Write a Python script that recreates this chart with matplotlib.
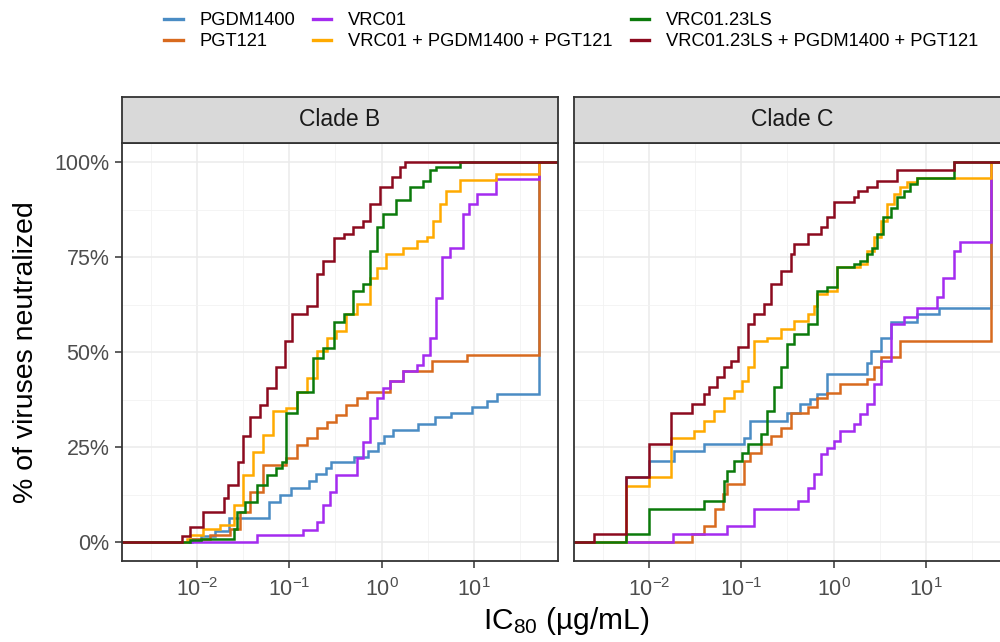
import numpy as np
import matplotlib
matplotlib.use("Agg")
import matplotlib.pyplot as plt
from matplotlib.lines import Line2D
from matplotlib.ticker import FixedLocator, FuncFormatter

plt.rcParams['font.family'] = ['Liberation Sans', 'DejaVu Sans']
plt.rcParams['mathtext.fontset'] = 'custom'
plt.rcParams['mathtext.rm'] = 'Liberation Sans'
plt.rcParams['mathtext.it'] = 'Liberation Sans:italic'

# ---------------- data (log10 IC80 at each step, % neutralized after step) ----
antibodies = ["PGDM1400", "PGT121", "VRC01", "VRC01 + PGDM1400 + PGT121",
              "VRC01.23LS", "VRC01.23LS + PGDM1400 + PGT121"]
colors = ["#4A8CC4", "#D86A1E", "#A42BF0", "#FFAA00", "#0B7A0B", "#8C0A1E"]
panels = ["Clade B", "Clade C"]

# Clade B
B_PGDM1400_logx = [-2.05, -1.95, -1.80, -1.65, -1.22, -1.10, -0.98, -0.79, -0.71, -0.60, -0.55, -0.30,
                   -0.15, -0.04, 0.03, 0.12, 0.39, 0.58, 0.75, 0.98, 1.14, 1.25, 1.70]
B_PGDM1400_pct = [0.8, 1.5, 3, 6.4, 10.6, 12.3, 14.3, 16, 17.9, 19.5, 21, 22.5,
                  24, 26, 28, 29.5, 31, 33, 34, 35.5, 37, 39, 100]
B_PGT121_logx = [-2.07, -1.86, -1.64, -1.53, -1.42, -1.28, -1.03, -0.92, -0.81, -0.70, -0.59, -0.49,
                 -0.38, -0.27, -0.16, 0.09, 0.23, 0.55, 0.92, 1.70]
B_PGT121_pct = [0.9, 1.8, 3.5, 7.9, 13.2, 20.3, 22, 25.6, 27.3, 30, 31.7, 33.5,
                36.1, 37.9, 39.6, 42.3, 45, 47.6, 49.3, 100]
B_VRC01_logx = [-1.35, -0.85, -0.70, -0.63, -0.56, -0.49, -0.27, -0.20, -0.13, -0.05, 0.02, 0.09,
                0.23, 0.38, 0.45, 0.52, 0.59, 0.65, 0.74, 0.88, 0.95, 1.03, 1.24, 1.70]
B_VRC01_pct = [1.8, 3.1, 5.3, 9.7, 13.2, 17.6, 22, 26.4, 32.6, 37.9, 40.5, 42.3,
               45, 46.7, 49.3, 53.7, 64.3, 74.9, 77.5, 86.3, 89, 91.6, 95.4, 100]
B_combo1_logx = [-2.11, -2.07, -1.93, -1.75, -1.60, -1.50, -1.39, -1.28, -1.17, -1.03, -0.92, -0.81,
                 -0.70, -0.59, -0.49, -0.38, -0.27, -0.13, -0.05, 0.05, 0.23, 0.38, 0.49, 0.56,
                 0.63, 0.70, 0.85, 1.24, 1.70]
B_combo1_pct = [0.9, 1.8, 3.5, 4.4, 9.7, 17.6, 23.8, 28.2, 34.4, 35.2, 39.6, 43.2,
                50.2, 53.7, 55.5, 60, 62.6, 69.6, 72.2, 75.8, 77.5, 79.3, 80.2, 84.6,
                89, 92.5, 95.2, 96.9, 100]
B_VRC0123LS_logx = [-2.07, -1.96, -1.60, -1.57, -1.48, -1.35, -1.24, -1.14, -1.08, -1.03, -0.92, -0.74,
                    -0.63, -0.52, -0.41, -0.31, -0.20, -0.13, -0.05, 0.02, 0.16, 0.31, 0.45, 0.52,
                    0.59, 0.85]
B_VRC0123LS_pct = [0.5, 0.9, 3.5, 8, 10.6, 15, 17.6, 19.4, 21, 34, 39.6, 48.5,
                   51, 58, 60, 66, 68, 76.7, 82.8, 86.3, 90, 93.4, 95, 97.8,
                   98.7, 100]
B_combo2_logx = [-2.16, -2.07, -1.93, -1.71, -1.66, -1.55, -1.50, -1.42, -1.32, -1.24, -1.14, -1.05,
                 -0.97, -0.81, -0.70, -0.63, -0.52, -0.41, -0.31, -0.20, -0.13, -0.02, 0.11, 0.20,
                 0.25]
B_combo2_pct = [1.7, 4, 8, 11.5, 15, 21, 28, 33, 36, 40.5, 46, 53,
                60, 62, 70.5, 74, 80, 81, 83, 84.6, 89, 93.4, 96, 98.7,
                100]

# Clade C
C_PGDM1400_logx = [-2.25, -2.0, -1.73, -1.40, -0.97, -0.90, -0.50, -0.36, -0.25, -0.18, -0.07, 0.36,
                   0.40, 0.51, 0.62, 0.90, 1.14, 1.70]
C_PGDM1400_pct = [17, 21.3, 24, 25.7, 27.5, 31.9, 34, 36.3, 37.6, 38.9, 44.2, 47.2,
                  50.3, 53.8, 57.8, 60, 61.7, 100]
C_PGT121_logx = [-1.53, -1.40, -1.28, -1.20, -1.15, -0.97, -0.90, -0.79, -0.68, -0.57, -0.46, -0.28,
                 -0.18, -0.07, 0.07, 0.36, 0.44, 0.51, 0.72, 1.70]
C_PGT121_pct = [2, 4.2, 8.6, 12.6, 15.2, 21.3, 23.5, 25.7, 27.9, 30.1, 34, 35.4,
                38, 39.3, 41.6, 42.9, 46, 48.6, 53, 100]
C_VRC01_logx = [-1.74, -1.15, -0.86, -0.39, -0.28, -0.21, -0.14, -0.07, 0.0, 0.07, 0.22, 0.29,
                0.36, 0.44, 0.51, 0.62, 0.76, 0.90, 1.12, 1.19, 1.30, 1.37, 1.70]
C_VRC01_pct = [2, 4.2, 8.6, 10.8, 14.3, 17.8, 23.1, 24.8, 26.6, 29.2, 31, 33.6,
               36.3, 41.6, 47.7, 57.4, 59.1, 61.7, 64.4, 69.6, 76.7, 78.9, 100]
C_combo1_logx = [-2.25, -2.0, -1.76, -1.51, -1.40, -1.29, -1.19, -1.08, -0.99, -0.93, -0.86, -0.72,
                 -0.57, -0.43, -0.28, -0.21, -0.18, -0.07, 0.04, 0.29, 0.36, 0.44, 0.51, 0.58,
                 0.65, 0.72, 0.80, 0.90, 1.70]
C_combo1_pct = [14.8, 17, 27.5, 29.2, 31.9, 34.5, 38, 39.8, 42.4, 46, 53, 53.8,
                56, 58.2, 60, 62.2, 65.3, 66.1, 72.3, 73.2, 76.7, 80.2, 84.6, 89,
                91.6, 93.4, 94.7, 95.8, 100]
C_VRC0123LS_logx = [-2.25, -2.0, -1.40, -1.19, -1.15, -1.08, -0.99, -0.93, -0.79, -0.72, -0.65, -0.57,
                    -0.50, -0.43, -0.28, -0.18, -0.07, 0.04, 0.22, 0.29, 0.36, 0.42, 0.47, 0.54,
                    0.62, 0.69, 0.76, 0.83, 0.90, 1.30]
C_VRC0123LS_pct = [2, 8.6, 10.8, 16, 18.7, 21.3, 23.5, 25.7, 28.4, 34.5, 40.7, 46,
                   52.1, 54.7, 57.4, 66.1, 67, 72.3, 73.2, 74, 75.8, 77.5, 81.1, 85.5,
                   88, 90.7, 92.5, 94.2, 95.8, 100]
C_combo2_logx = [-2.59, -2.25, -2.0, -1.76, -1.53, -1.40, -1.35, -1.26, -1.19, -1.11, -1.04, -0.93,
                 -0.86, -0.75, -0.68, -0.57, -0.46, -0.43, -0.28, -0.14, -0.07, 0.0, 0.22, 0.26,
                 0.36, 0.47, 0.69, 1.30]
C_combo2_pct = [2, 17, 25.7, 34, 36.4, 39, 40.7, 43.3, 46, 47.7, 51.2, 57.4,
                60, 62.6, 67.9, 71.4, 75.8, 78.4, 81.1, 82.8, 85.5, 89.4, 90.7, 92.5,
                93.4, 95.1, 97.8, 100]

series_B = [(B_PGDM1400_logx, B_PGDM1400_pct), (B_PGT121_logx, B_PGT121_pct),
            (B_VRC01_logx, B_VRC01_pct), (B_combo1_logx, B_combo1_pct),
            (B_VRC0123LS_logx, B_VRC0123LS_pct), (B_combo2_logx, B_combo2_pct)]
series_C = [(C_PGDM1400_logx, C_PGDM1400_pct), (C_PGT121_logx, C_PGT121_pct),
            (C_VRC01_logx, C_VRC01_pct), (C_combo1_logx, C_combo1_pct),
            (C_VRC0123LS_logx, C_VRC0123LS_pct), (C_combo2_logx, C_combo2_pct)]

# ---------------- figure ----------------
W, H = 1000, 642
fig = plt.figure(figsize=(W / 100, H / 100), dpi=100)

xlo, xhi = 10 ** -2.81, 10 ** 1.91
panel_w = 436
lefts = [122, 574]
pb, pt = 561, 143
st_top = 97

border_col = "#333333"
for pi, (title, series) in enumerate(zip(panels, [series_B, series_C])):
    L = lefts[pi]
    ax = fig.add_axes([L / W, (H - pb) / H, panel_w / W, (pb - pt) / H])
    ax.set_xscale('log')
    ax.set_xlim(xlo, xhi)
    ax.set_ylim(-5, 105)
    # grid
    for e in [-2, -1, 0, 1]:
        ax.axvline(10 ** e, color="#EBEBEB", lw=1.1, zorder=0)
    for e in [-2.5, -1.5, -0.5, 0.5, 1.5]:
        ax.axvline(10 ** e, color="#F2F2F2", lw=0.6, zorder=0)
    for v in [0, 25, 50, 75, 100]:
        ax.axhline(v, color="#EBEBEB", lw=1.1, zorder=0)
    for v in [12.5, 37.5, 62.5, 87.5]:
        ax.axhline(v, color="#F2F2F2", lw=0.6, zorder=0)
    for (lx, pc), col in zip(series, colors):
        xs = [1e-6] + [10 ** v for v in lx] + [1e6]
        ys = [0] + list(pc) + [pc[-1]]
        ax.step(xs, ys, where='post', color=col, lw=1.8, zorder=2, solid_joinstyle='miter')
    ax.xaxis.set_major_locator(FixedLocator([1e-2, 1e-1, 1e0, 1e1]))
    ax.xaxis.set_minor_locator(FixedLocator([]))
    ax.xaxis.set_major_formatter(FuncFormatter(lambda v, p: r"$10^{%d}$" % round(np.log10(v))))
    ax.yaxis.set_major_locator(FixedLocator([0, 25, 50, 75, 100]))
    ax.yaxis.set_major_formatter(FuncFormatter(lambda v, p: "%d%%" % v))
    ax.tick_params(axis='both', colors=border_col, length=5, width=1.1, labelsize=15.5,
                   labelcolor="#4D4D4D", pad=4)
    ax.tick_params(axis='x', pad=7)
    if pi == 1:
        ax.tick_params(axis='y', left=False, labelleft=False)
    for s in ax.spines.values():
        s.set_color(border_col)
        s.set_linewidth(1.3)
    # strip
    sax = fig.add_axes([L / W, (H - pt) / H, panel_w / W, (pt - st_top) / H])
    sax.set_facecolor("#D9D9D9")
    sax.set_xticks([]); sax.set_yticks([])
    for s in sax.spines.values():
        s.set_color(border_col)
        s.set_linewidth(1.3)
    sax.text(0.5, 0.5, title, transform=sax.transAxes, ha='center', va='center',
             fontsize=16.5, color="#1A1A1A")

fig.text(0.026, (H - (pb + pt) / 2) / H, "% of viruses neutralized", rotation=90,
         ha='center', va='center', fontsize=20.5, color="black")
fig.text(0.566, (H - 621) / H, "IC$_{80}$ (µg/mL)", ha='center', va='center',
         fontsize=21.5, color="black")

handles = [Line2D([0], [0], color=c, lw=2.4) for c in colors]
fig.legend(handles, antibodies, loc='center', bbox_to_anchor=(0.571, (H - 31) / H), ncol=3,
           frameon=False, fontsize=13.2, handlelength=1.0, handletextpad=0.9,
           columnspacing=1.0, labelspacing=0.22, borderpad=0.2)

fig.savefig("out.png", dpi=100)
